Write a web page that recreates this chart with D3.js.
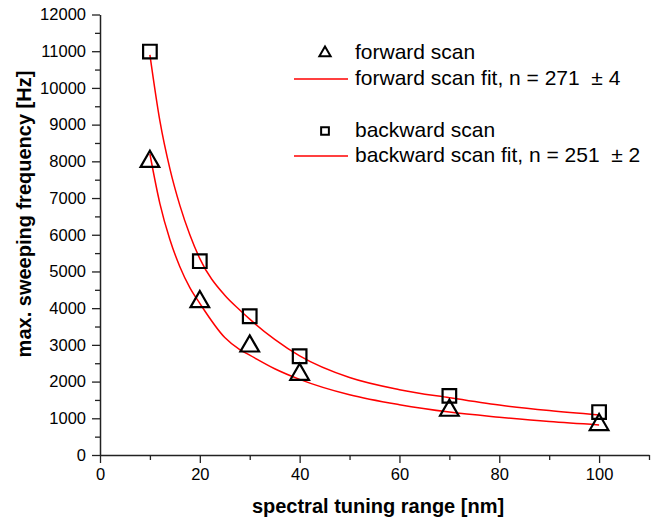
<!DOCTYPE html>
<html>
<head>
<meta charset="utf-8">
<script src="https://cdn.jsdelivr.net/npm/d3@7"></script>
<style>
  body { margin: 0; background: #fff; }
  text { font-family: Arial, "Liberation Sans", sans-serif; fill: #000; }
</style>
</head>
<body>
<div id="chart"></div>
<script>
const rangeNm = [10, 20, 30, 40, 70, 100];
const forwardHz = [8050, 4230, 3020, 2250, 1270, 880];
const backwardHz = [10990, 5280, 3780, 2690, 1610, 1170];

// fit curves, sampled by eye along the red lines
const fitNm = [10, 12, 14, 16, 18, 20, 25, 28, 30, 35, 40, 50, 60, 70, 80, 90, 100];
const forwardFitHz = [8200, 6850, 5870, 5130, 4560, 4130, 3200, 2870, 2720, 2350, 2060, 1640, 1370, 1170, 1030, 910, 820];
const backwardFitHz = [10900, 9100, 7800, 6800, 6000, 5350, 4350, 3950, 3700, 3150, 2700, 2110, 1780, 1560, 1360, 1210, 1090];

const xTicks = [0, 20, 40, 60, 80, 100];
const yTicks = [0, 1000, 2000, 3000, 4000, 5000, 6000, 7000, 8000, 9000, 10000, 11000, 12000];

const legendItems = [
  { label: "forward scan", kind: "triangle" },
  { label: "forward scan fit, n = 271  \u00b1 4", kind: "line" },
  { label: "backward scan", kind: "square" },
  { label: "backward scan fit, n = 251  \u00b1 2", kind: "line" },
];

const W = 661, H = 522;
const plot = { left: 100, right: 649, top: 14.5, bottom: 455 };

const svg = d3.select("#chart").append("svg")
  .attr("width", W).attr("height", H);

const x = d3.scaleLinear().domain([0, 110]).range([plot.left, plot.right]);
const y = d3.scaleLinear().domain([0, 12000]).range([plot.bottom, plot.top]);

const axisColor = "#222";

// x axis, with minor ticks between the labelled ones
svg.append("g")
  .attr("transform", `translate(0,${plot.bottom})`)
  .call(d3.axisBottom(x).tickValues(xTicks).tickFormat(d3.format("d"))
    .tickSize(8).tickSizeOuter(0).tickPadding(5));
svg.append("g")
  .attr("transform", `translate(0,${plot.bottom})`)
  .call(d3.axisBottom(x).tickValues(d3.range(10, 111, 20)).tickSize(5).tickSizeOuter(0).tickFormat(""))
  .call((g) => g.select(".domain").remove());

svg.append("g")
  .attr("transform", `translate(${plot.left},0)`)
  .call(d3.axisLeft(y).tickValues(yTicks).tickFormat(d3.format("d"))
    .tickSize(8).tickSizeOuter(0).tickPadding(6));
svg.append("g")
  .attr("transform", `translate(${plot.left},0)`)
  .call(d3.axisLeft(y).tickValues(d3.range(500, 12000, 1000)).tickSize(5).tickSizeOuter(0).tickFormat(""))
  .call((g) => g.select(".domain").remove());

svg.selectAll(".domain").attr("stroke", axisColor).attr("stroke-width", 1.5);
svg.selectAll(".tick line").attr("stroke", axisColor).attr("stroke-width", 1.3);
svg.selectAll(".tick text").style("font-size", "16.5px").attr("fill", "#111");

// axis titles
svg.append("text")
  .attr("x", 378)
  .attr("y", 513)
  .attr("text-anchor", "middle")
  .style("font-size", "20px").style("font-weight", "bold")
  .text("spectral tuning range [nm]");

svg.append("text")
  .attr("transform", "translate(31,214) rotate(-90)")
  .attr("text-anchor", "middle")
  .style("font-size", "20px").style("font-weight", "bold")
  .text("max. sweeping frequency [Hz]");

// fit lines
const line = d3.line()
  .x((d) => x(d[0]))
  .y((d) => y(d[1]))
  .curve(d3.curveMonotoneX);

[forwardFitHz, backwardFitHz].forEach((vals) => {
  svg.append("path")
    .datum(fitNm.map((n, i) => [n, vals[i]]))
    .attr("fill", "none")
    .attr("stroke", "#ff0000")
    .attr("stroke-width", 1.5)
    .attr("d", line);
});

// markers
const triangle = d3.symbol().type(d3.symbolTriangle).size(150);
const square = d3.symbol().type(d3.symbolSquare).size(185);

svg.append("g").selectAll("path")
  .data(rangeNm.map((n, i) => [n, forwardHz[i]]))
  .join("path")
  .attr("transform", (d) => `translate(${x(d[0])},${y(d[1]) + 2})`)
  .attr("d", triangle)
  .attr("fill", "none")
  .attr("stroke", "#000")
  .attr("stroke-width", 2.2);

svg.append("g").selectAll("path")
  .data(rangeNm.map((n, i) => [n, backwardHz[i]]))
  .join("path")
  .attr("transform", (d) => `translate(${x(d[0])},${y(d[1])})`)
  .attr("d", square)
  .attr("fill", "none")
  .attr("stroke", "#000")
  .attr("stroke-width", 2.2);

// legend
const legendRowY = [59, 85, 137, 162];
const legend = svg.append("g");
legendItems.forEach((item, i) => {
  const by = legendRowY[i];
  if (item.kind === "line") {
    legend.append("line")
      .attr("x1", 294).attr("x2", 348)
      .attr("y1", by - 6).attr("y2", by - 6)
      .attr("stroke", "#ff0000").attr("stroke-width", 1.5);
  } else {
    legend.append("path")
      .attr("transform", `translate(325,${by - 6})`)
      .attr("d", d3.symbol().type(item.kind === "triangle" ? d3.symbolTriangle : d3.symbolSquare).size(item.kind === "triangle" ? 55 : 60))
      .attr("fill", "none")
      .attr("stroke", "#000")
      .attr("stroke-width", 2);
  }
  legend.append("text")
    .attr("x", 355).attr("y", by)
    .style("font-size", "21px")
    .style("white-space", "pre")
    .text(item.label);
});
</script>
</body>
</html>
